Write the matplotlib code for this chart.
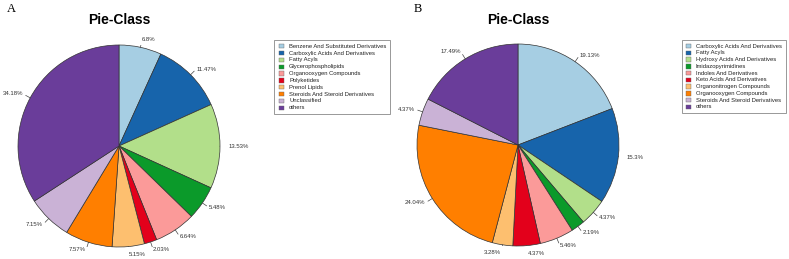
import numpy as np
import matplotlib
matplotlib.use("Agg")
import matplotlib.pyplot as plt
from matplotlib.patches import Rectangle

plt.rcParams['font.family'] = ['Liberation Sans', 'DejaVu Sans']

cats_a = ["Benzene And Substituted Derivatives", "Carboxylic Acids And Derivatives",
          "Fatty Acyls", "Glycerophospholipids", "Organooxygen Compounds",
          "Polyketides", "Prenol Lipids", "Steroids And Steroid Derivatives",
          "Unclassified", "others"]
vals_a = [6.8, 11.47, 13.53, 5.48, 6.64, 2.03, 5.15, 7.57, 7.15, 34.18]
labels_a = ["6.8%", "11.47%", "13.53%", "5.48%", "6.64%", "2.03%", "5.15%", "7.57%", "7.15%", "34.18%"]

cats_b = ["Carboxylic Acids And Derivatives", "Fatty Acyls", "Hydroxy Acids And Derivatives",
          "Imidazopyrimidines", "Indoles And Derivatives", "Keto Acids And Derivatives",
          "Organonitrogen Compounds", "Organooxygen Compounds",
          "Steroids And Steroid Derivatives", "others"]
vals_b = [19.13, 15.3, 4.37, 2.19, 5.46, 4.37, 3.28, 24.04, 4.37, 17.49]
labels_b = ["19.13%", "15.3%", "4.37%", "2.19%", "5.46%", "4.37%", "3.28%", "24.04%", "4.37%", "17.49%"]

colors = ['#A6CEE3', '#1764AB', '#B2DF8A', '#0B9A2A', '#FB9A99',
          '#E3001B', '#FDBF6F', '#FF7F00', '#CAB2D6', '#6A3D9A']

W, H = 789, 259
fig = plt.figure(figsize=(W / 100, H / 100), dpi=100)


def px_axes(x0, y0, x1, y1):
    return fig.add_axes([x0 / W, 1 - y1 / H, (x1 - x0) / W, (y1 - y0) / H])


def draw_pie(ax, vals, labels):
    wedges, _ = ax.pie(vals, colors=colors, startangle=90, counterclock=False,
                       radius=1.0, wedgeprops=dict(edgecolor='#333333', linewidth=0.5))
    total = sum(vals)
    cum = 0.0
    for v, lab in zip(vals, labels):
        mid = 90 - 360 * (cum + v / 2) / total
        cum += v
        a = np.deg2rad(mid)
        c, s = np.cos(a), np.sin(a)
        ax.plot([c * 1.0, c * 1.05], [s * 1.0, s * 1.05], color='#444444', lw=0.5)
        ha = 'left' if c > 0 else 'right'
        ax.text(c * 1.08, s * 1.08, lab, ha=ha, va='center', fontsize=4.3, color='#333333')
    ax.set_xlim(-1, 1)
    ax.set_ylim(-1, 1)
    ax.set_aspect('equal')
    ax.axis('off')


def draw_legend(x0, y0, x1, y1, cats):
    ax = px_axes(x0, y0, x1, y1)
    ax.set_xlim(0, 1)
    ax.set_ylim(0, 1)
    ax.axis('off')
    ax.add_patch(Rectangle((0, 0), 1, 1, fill=False, edgecolor='#888888', lw=0.6,
                           transform=ax.transAxes, clip_on=False))
    n = len(cats)
    for i, (cname, col) in enumerate(zip(cats, colors)):
        y = 1 - (i + 0.9) / (n + 0.8)
        ax.add_patch(Rectangle((0.04, y - 0.03), 0.045, 0.06, facecolor=col,
                               edgecolor='#666666', lw=0.3))
        ax.text(0.13, y, cname, va='center', ha='left', fontsize=4.2, color='#222222')


ax_a = px_axes(18, 45, 220, 247)
draw_pie(ax_a, vals_a, labels_a)
ax_b = px_axes(417, 44, 619, 246)
draw_pie(ax_b, vals_b, labels_b)

fig.text(119 / W, 1 - 20 / H, "Pie-Class", ha='center', va='center',
         fontsize=10, fontweight='bold')
fig.text(518 / W, 1 - 20 / H, "Pie-Class", ha='center', va='center',
         fontsize=10, fontweight='bold')
fig.text(7 / W, 1 - 9 / H, "A", ha='left', va='center', fontsize=9,
         family='Liberation Serif')
fig.text(414 / W, 1 - 9 / H, "B", ha='left', va='center', fontsize=9,
         family='Liberation Serif')

draw_legend(274, 40, 390, 114, cats_a)
draw_legend(682, 40, 786, 113, cats_b)

fig.savefig("out.png", dpi=100)
